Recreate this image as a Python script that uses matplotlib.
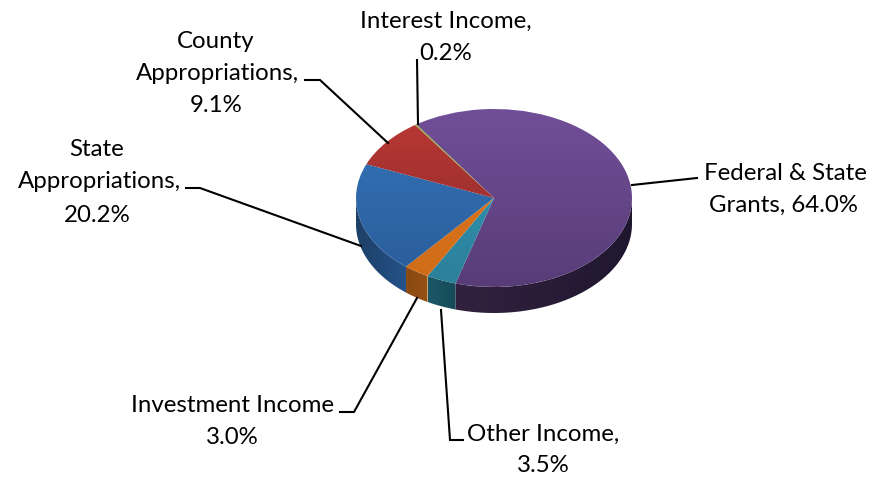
import numpy as np
import matplotlib
matplotlib.use("Agg")
import matplotlib.pyplot as plt
from matplotlib.colors import LinearSegmentedColormap
from matplotlib.patches import Polygon

# slices, clockwise from the start angle
names = ["Federal & State Grants", "Other Income", "Investment Income",
         "State Appropriations", "County Appropriations", "Interest Income"]
values = [64.0, 3.5, 3.0, 20.2, 9.1, 0.2]

# top face colours (upper edge, lower edge), wall colours (left, right)
top_hi = ["#714f98", "#309cba", "#e27a1e", "#3475bc", "#bb3836", "#93a83f"]
top_lo = ["#583c78", "#2c7f99", "#cf6c18", "#2a5c98", "#872a28", "#7a8c34"]
wall_l = ["#33223f", "#1c5866", "#8a4a12", "#1d4066", "#7a2624", "#5f6d28"]
wall_r = ["#1f1730", "#164a58", "#965014", "#24528a", "#7a2624", "#5f6d28"]

start_angle = 124.2
cx, cy = 494, 198      # pixels
rx, ry = 138, 89
depth = 26 / ry

fig = plt.figure(figsize=(8.72, 4.8), dpi=100)
ax = fig.add_axes([0, 0, 1, 1])
xlim = (-cx / rx, (872 - cx) / rx)
ylim = (-(480 - cy) / ry, cy / ry)

wedges, _ = ax.pie(values, startangle=start_angle, counterclock=False, radius=1,
                   wedgeprops=dict(linewidth=0), normalize=True)
ax.set_aspect("auto")

grad_v = np.linspace(0, 1, 256).reshape(-1, 1)
grad_h = np.linspace(0, 1, 256).reshape(1, -1)

for i, w in enumerate(wedges):
    w.set_visible(False)
    # side wall, only the part on the front of the pie
    for shift in (0, 360):
        b1 = max(w.theta1 + shift, 180)
        b2 = min(w.theta2 + shift, 360)
        if b2 <= b1:
            continue
        t = np.radians(np.linspace(b1, b2, 80))
        upper = np.column_stack([np.cos(t), np.sin(t)])
        lower = np.column_stack([np.cos(t[::-1]), np.sin(t[::-1]) - depth])
        wall = Polygon(np.vstack([upper, lower]), closed=True, transform=ax.transData,
                       facecolor="none", edgecolor="none")
        ax.add_patch(wall)
        cmap = LinearSegmentedColormap.from_list("w", [wall_l[i], wall_r[i]])
        im = ax.imshow(grad_h, cmap=cmap, aspect="auto", interpolation="bilinear",
                       extent=(np.cos(t).min(), np.cos(t).max(), -1.4, 0))
        im.set_clip_path(wall)
    # top face
    cmap = LinearSegmentedColormap.from_list("t", [top_hi[i], top_lo[i]])
    im = ax.imshow(grad_v, cmap=cmap, aspect="auto", interpolation="bilinear",
                   extent=(-1, 1, -1, 1), zorder=3)
    im.set_clip_path(w)

ax.set_xlim(*xlim)
ax.set_ylim(*ylim)
ax.axis("off")

# labels and leader lines are in pixels
ov = fig.add_axes([0, 0, 1, 1])
ov.set_xlim(0, 872)
ov.set_ylim(480, 0)
ov.axis("off")
ov.patch.set_alpha(0)

label_lines = [
    (["Federal & State", "Grants, %.1f%%" % values[0]], [785, 783], [173, 205]),
    (["Other Income,", "%.1f%%" % values[1]], [543, 543], [434, 466]),
    (["Investment Income", "%.1f%%" % values[2]], [232, 232], [405, 437]),
    (["State", "Appropriations,", "%.1f%%" % values[3]], [97, 99, 97], [149, 182, 215]),
    (["County", "Appropriations,", "%.1f%%" % values[4]], [216, 217, 216], [41, 73, 106]),
    (["Interest Income,", "%.1f%%" % values[5]], [446, 446], [21, 54]),
]
leaders = [
    ([632, 697, 697], [185, 178, 178]),
    ([463, 450, 441], [440, 440, 310]),
    ([340, 354, 417], [412, 412, 298]),
    ([186, 200, 361], [188, 188, 246]),
    ([305, 320, 388], [80, 80, 143]),
    ([417, 418], [60, 124]),
]

for lines, xs, ys in label_lines:
    for s, x, y in zip(lines, xs, ys):
        ov.text(x, y, s, ha="center", va="center", fontsize=17.3, family="Lato", color="black")
for lx, ly in leaders:
    ov.plot(lx, ly, color="black", lw=1.5, solid_joinstyle="miter")

fig.savefig("out.png", dpi=100)
